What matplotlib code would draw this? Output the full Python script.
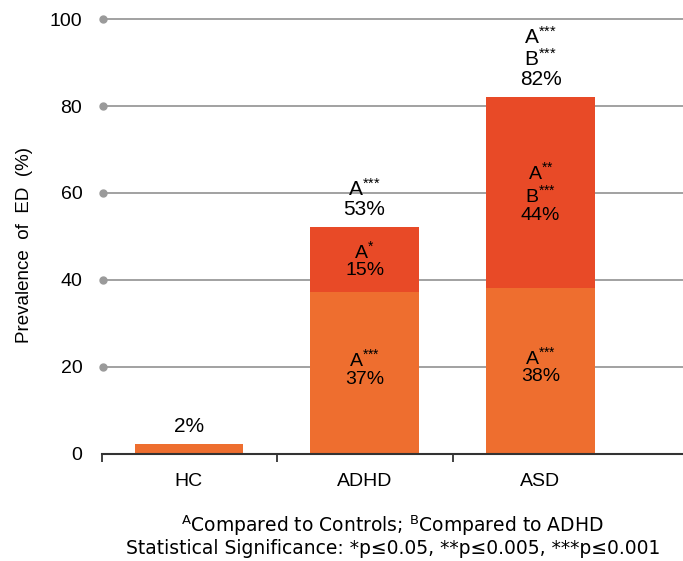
import numpy as np
import matplotlib as mpl
import matplotlib.pyplot as plt

mpl.rcParams.update({
    "font.family": ["Liberation Sans", "DejaVu Sans"],
    "mathtext.fontset": "custom",
    "mathtext.rm": "Liberation Sans",
    "mathtext.it": "Liberation Sans",
})

groups = ["HC", "ADHD", "ASD"]
lower = [2.3, 37.2, 38.2]          # lower (orange) segment
upper = [0.0, 15.0, 43.8]          # upper (red) segment
S1, S2, S3 = "$^{{*}}$", "$^{{*}{*}}$", "$^{{*}{*}{*}}$"
lower_labels = ["", "A" + S3 + "\n37%", "A" + S3 + "\n38%"]
upper_labels = ["", "A" + S1 + "\n15%", "A" + S2 + "\nB" + S3 + "\n44%"]
top_labels = ["2%", "A" + S3 + "\n53%", "A" + S3 + "\nB" + S3 + "\n82%"]
yticks = [0, 20, 40, 60, 80, 100]

c_low = "#EE6E2F"
c_up = "#E84A27"
grid_c = "#9a9a9a"

fig = plt.figure(figsize=(6.83, 5.61), dpi=100)
ax = fig.add_axes([0.149, 0.191, 0.851, 0.775])

x = np.arange(len(groups))
xmin, xmax = -0.494, 2.81
ax.set_xlim(xmin, xmax)
ax.set_ylim(0, 100)

# gridlines with a dot at the left end
for v in yticks[1:]:
    ax.plot([xmin + 0.005, xmax], [v, v], color=grid_c, lw=1.3,
            marker="o", ms=5, markevery=[0], zorder=1, clip_on=False)

ax.bar(x, lower, width=0.615, color=c_low, zorder=2)
ax.bar(x, upper, width=0.615, bottom=lower, color=c_up, zorder=2)

for i in range(len(groups)):
    if lower_labels[i]:
        ax.text(x[i], lower[i] / 2 + 1.2, lower_labels[i], ha="center", va="center",
                fontsize=14, linespacing=1.05, zorder=3)
    if upper_labels[i]:
        ax.text(x[i], lower[i] + upper[i] / 2, upper_labels[i], ha="center", va="center",
                fontsize=14, linespacing=1.05, zorder=3)
    ax.annotate(top_labels[i], (x[i], lower[i] + upper[i]), xytext=(0, 6),
                textcoords="offset points", ha="center", va="bottom",
                fontsize=15, linespacing=1.0)

for s in ["top", "right", "left"]:
    ax.spines[s].set_visible(False)
ax.spines["bottom"].set_color("#333333")
ax.spines["bottom"].set_linewidth(1.5)

ax.set_yticks(yticks)
ax.set_yticklabels([str(v) for v in yticks], fontsize=14)
ax.tick_params(axis="y", length=0, pad=14)

ax.set_xticks(x)
ax.set_xticklabels(groups, fontsize=14)
ax.tick_params(axis="x", which="major", length=0, pad=14)
ax.set_xticks([-0.494, 0.5, 1.5], minor=True)
ax.tick_params(axis="x", which="minor", length=6, width=1.3, color="#333333", direction="out")

fig.text(25 / 683, 1 - 245 / 561, "Prevalence  of  ED  (%)", rotation=90,
         ha="center", va="center", fontsize=13.5)

fig.text(0.575, 0.063, "$^{\\mathregular{A}}$Compared to Controls; $^{\\mathregular{B}}$Compared to ADHD",
         ha="center", va="center", fontsize=13.5, family="DejaVu Sans")
fig.text(0.575, 0.022, "Statistical Significance: *p\u22640.05, **p\u22640.005, ***p\u22640.001",
         ha="center", va="center", fontsize=13.5, family="DejaVu Sans")

fig.savefig("out.png", dpi=100)
